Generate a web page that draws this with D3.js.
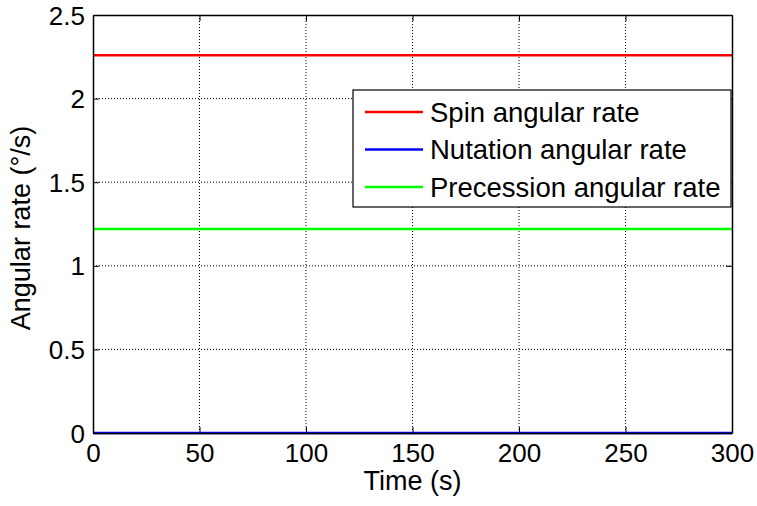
<!DOCTYPE html>
<html>
<head>
<meta charset="utf-8">
<script src="https://cdn.jsdelivr.net/npm/d3@7"></script>
<style>
  body { margin: 0; background: #fff; }
  text { font-family: "Liberation Sans", Arial, sans-serif; fill: #000; }
</style>
</head>
<body>
<svg id="chart" width="757" height="506"></svg>
<script>
var times = [0, 300];
var spin = [2.26, 2.26];
var nutation = [0, 0];
var precession = [1.22, 1.22];
var xTicks = [0, 50, 100, 150, 200, 250, 300];
var yTicks = [0, 0.5, 1, 1.5, 2, 2.5];
var seriesNames = ["Spin angular rate", "Nutation angular rate", "Precession angular rate"];
var seriesColors = ["#ff0000", "#0000ff", "#00ff00"];

var svg = d3.select("#chart"),
    margin = {top: 15, right: 25, bottom: 73, left: 93},
    width = +svg.attr("width") - margin.left - margin.right,
    height = +svg.attr("height") - margin.top - margin.bottom;

var x = d3.scaleLinear().domain([0, 300]).range([0, width]);
var y = d3.scaleLinear().domain([0, 2.5]).range([height, 0]);

var g = svg.append("g")
    .attr("transform", "translate(" + margin.left + "," + margin.top + ")");

// grid
g.selectAll(".gx").data(xTicks.slice(1, -1)).enter().append("line")
    .attr("x1", d => x(d)).attr("x2", d => x(d))
    .attr("y1", 0).attr("y2", height)
    .attr("stroke", "#000").attr("stroke-width", 1).attr("stroke-dasharray", "1,2");
g.selectAll(".gy").data(yTicks.slice(1, -1)).enter().append("line")
    .attr("y1", d => y(d)).attr("y2", d => y(d))
    .attr("x1", 0).attr("x2", width)
    .attr("stroke", "#000").attr("stroke-width", 1).attr("stroke-dasharray", "1,2");

// series
var allSeries = [spin, nutation, precession];
var line = d3.line()
    .x(function(d, i) { return x(times[i]); })
    .y(function(d) { return y(d); });
allSeries.forEach(function(s, i) {
    g.append("path")
        .datum(s)
        .attr("fill", "none")
        .attr("stroke", seriesColors[i])
        .attr("stroke-width", 2.5)
        .attr("d", line);
});

// axes (ticks inside, MATLAB style)
var tickFont = 26, labelFont = 27, legendFont = 27.5;
var xAxis = d3.axisBottom(x).tickValues(xTicks).tickFormat(d3.format("d")).tickSizeInner(-6).tickSizeOuter(0);
var yAxis = d3.axisLeft(y).tickValues(yTicks).tickFormat(d => d).tickSizeInner(-6).tickSizeOuter(0);

g.append("g").attr("transform", "translate(0," + height + ")").call(xAxis)
    .call(a => a.selectAll("text").attr("font-size", tickFont).attr("y", 29).attr("dy", 0));
g.append("g").call(yAxis)
    .call(a => a.selectAll("text").attr("font-size", tickFont).attr("x", -8).attr("dy", "0.35em"));
g.append("g").call(d3.axisTop(x).tickValues(xTicks).tickFormat("").tickSizeInner(-6).tickSizeOuter(0));
g.append("g").attr("transform", "translate(" + width + ",0)")
    .call(d3.axisRight(y).tickValues(yTicks).tickFormat("").tickSizeInner(-6).tickSizeOuter(0));
g.selectAll(".domain").attr("stroke", "#000").attr("stroke-width", 1.5);
g.selectAll(".tick line").attr("stroke", "#000");
g.selectAll(".tick text").attr("fill", "#000");

// labels
svg.append("text")
    .attr("x", margin.left + width / 2).attr("y", 490)
    .attr("text-anchor", "middle").attr("font-size", labelFont)
    .text("Time (s)");
svg.append("text")
    .attr("transform", "translate(30," + (margin.top + height / 2 + 4) + ") rotate(-90)")
    .attr("text-anchor", "middle").attr("font-size", labelFont)
    .text("Angular rate (°/s)");

// legend
var lg = g.append("g").attr("transform", "translate(" + (353 - margin.left) + "," + (90 - margin.top) + ")");
lg.append("rect").attr("width", 378).attr("height", 117)
    .attr("fill", "#fff").attr("stroke", "#000").attr("stroke-width", 1.2);
seriesNames.forEach(function(name, i) {
    var cy = 22 + i * 37.5;
    lg.append("line").attr("x1", 12).attr("x2", 70).attr("y1", cy).attr("y2", cy)
        .attr("stroke", seriesColors[i]).attr("stroke-width", 2.5);
    lg.append("text").attr("x", 77).attr("y", cy).attr("dy", "0.35em")
        .attr("font-size", legendFont).text(name);
});
</script>
</body>
</html>
